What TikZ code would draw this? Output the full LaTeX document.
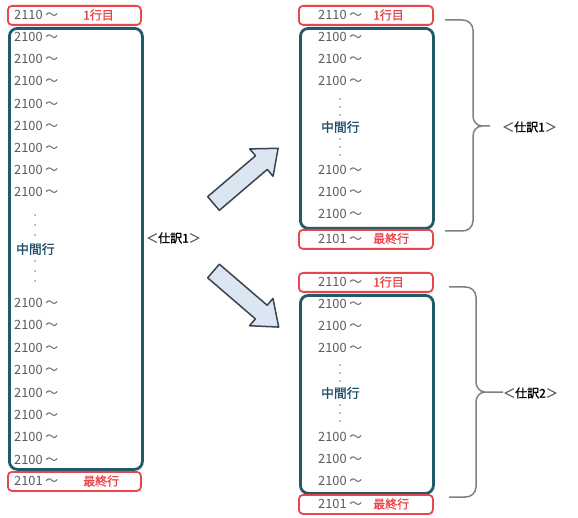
\documentclass[tikz,border=0pt]{standalone}
\usepackage{fontspec}
\setmainfont{Noto Sans CJK JP}
\newfontfamily\jpbold[FakeBold=1.2]{Noto Sans CJK JP}
\definecolor{tealb}{HTML}{215A6B}
\definecolor{redb}{HTML}{E8464C}
\definecolor{numgray}{HTML}{5A5A5A}
\definecolor{midtxt}{HTML}{1D4F6A}
\definecolor{arrfill}{HTML}{DCE6F2}
\definecolor{arrline}{HTML}{3A4450}
\definecolor{bracegray}{HTML}{808080}
\begin{document}
\begin{tikzpicture}[x=1pt,y=-1pt,
 redbox/.style={draw=redb, line width=1.8pt, rounded corners=4pt, fill=white, inner sep=0pt, anchor=north west, minimum height=19pt},
 tealbox/.style={draw=tealb, line width=2.8pt, rounded corners=8pt, inner sep=0pt, anchor=north west, minimum width=133pt},
 row/.style={anchor=west, inner sep=0pt, text=numgray, font=\fontsize{12.8}{14}\selectfont},
 redlbl/.style={anchor=west, inner sep=0pt, text=redb, font=\fontsize{12}{14}\selectfont\jpbold},
 midlbl/.style={anchor=west, inner sep=0pt, text=midtxt, font=\fontsize{12.8}{14}\selectfont\jpbold},
 dotmark/.style={circle, fill=numgray!80, inner sep=0pt, minimum size=1.8pt},
 bigarrow/.style={draw=arrline, fill=arrfill, line width=1.5pt, line join=round},
 brace/.style={draw=bracegray, line width=1.5pt},
 journal/.style={anchor=west, inner sep=0pt, font=\fontsize{12}{14}\selectfont\jpbold}
]
\useasboundingbox (0,0) rectangle (578,518);

% ---------- left column ----------
\node[tealbox, minimum height=441pt] (LT) at (8,27) {};
\node[redbox, minimum width=133pt] (LR1) at (7,5) {};
\node[redbox, minimum width=133pt] (LR2) at (7,471) {};
\node[row] (LRa) at (14,15) {2110 ～};
\node[redlbl] (LRb) at (83,15) {1行目};
\node[row] (LRc) at (14,481) {2101 ～};
\node[redlbl] (LRd) at (83,481) {最終行};
\foreach \i in {0,...,7}{
  \node[row] (LA\i) at (14,{37+22.2*\i}) {2100 ～};
  \node[row] (LB\i) at (14,{303+22.4*\i}) {2100 ～};
}
\foreach \y [count=\k] in {215,225,235,261,271,281}{
  \node[dotmark] (LD\k) at (35,\y) {};
}
\node[midlbl] (LM) at (16,249) {中間行};
\node[journal] (LJ) at (146,238) {{\color{numgray}＜}仕訳1{\color{numgray}＞}};

% ---------- arrows ----------
\begin{scope}[shift={(213.5,203.5)}, rotate=40.5]
  \draw[bigarrow] (0,-9) -- (63,-9) -- (63,-18) -- (85,0) -- (63,18) -- (63,9) -- (0,9) -- cycle;
\end{scope}
\begin{scope}[shift={(213.5,271)}, rotate=-40.7]
  \draw[bigarrow] (0,-9) -- (63,-9) -- (63,-18) -- (86,0) -- (63,18) -- (63,9) -- (0,9) -- cycle;
\end{scope}

% ---------- right top ----------
\node[tealbox, minimum height=200pt] (RT) at (299,27) {};
\node[redbox, minimum width=134pt] (RR1) at (298,5) {};
\node[redbox, minimum width=134pt] (RR2) at (298,229) {};
\node[row] (RRa) at (318,15) {2110 ～};
\node[redlbl] (RRb) at (373,15) {1行目};
\node[row] (RRc) at (318,238.5) {2101 ～};
\node[redlbl] (RRd) at (373,238.5) {最終行};
\foreach \y [count=\k] in {37,59,81,170,192,214}{
  \node[row] (RA\k) at (318,\y) {2100 ～};
}
\foreach \y [count=\k] in {99,107,115,139,147,155}{
  \node[dotmark] (RD\k) at (340,\y) {};
}
\node[midlbl] (RM) at (321,127) {中間行};
\draw[brace] (445,20) -- (462,20) to[out=5,in=90] (473,30) -- (473,116)
  to[out=-90,in=180] (482,126) -- (490,126);
\draw[brace] (482,126) to[out=180,in=90] (473,136) -- (473,221)
  to[out=-90,in=-5] (462,231) -- (445,231);
\node[journal] (RJ1) at (502,127) {{\color{numgray}＜}仕訳1{\color{numgray}＞}};

% ---------- right bottom ----------
\node[tealbox, minimum height=198pt] (ST) at (299,294) {};
\node[redbox, minimum width=134pt] (SR1) at (298,272) {};
\node[redbox, minimum width=134pt] (SR2) at (298,494) {};
\node[row] (SRa) at (318,282) {2110 ～};
\node[redlbl] (SRb) at (373,282) {1行目};
\node[row] (SRc) at (318,504) {2101 ～};
\node[redlbl] (SRd) at (373,504) {最終行};
\foreach \y [count=\k] in {304,326,348,437,459,481}{
  \node[row] (SA\k) at (318,\y) {2100 ～};
}
\foreach \y [count=\k] in {365,373,381,405,413,421}{
  \node[dotmark] (SD\k) at (340,\y) {};
}
\node[midlbl] (SM) at (321,393) {中間行};
\draw[brace] (449,287) -- (465,287) to[out=5,in=90] (476,297) -- (476,382)
  to[out=-90,in=180] (485,392) -- (503,392);
\draw[brace] (485,392) to[out=180,in=90] (476,402) -- (476,487)
  to[out=-90,in=-5] (465,497) -- (449,497);
\node[journal] (RJ2) at (503,393) {{\color{numgray}＜}仕訳2{\color{numgray}＞}};
\end{tikzpicture}
\end{document}
